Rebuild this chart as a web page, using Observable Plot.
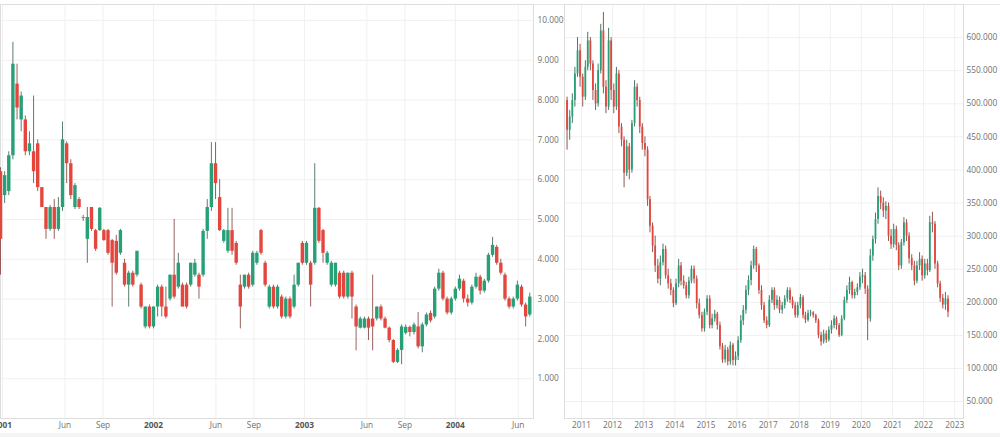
<!DOCTYPE html>
<html>
<head>
<meta charset="utf-8">
<script src="https://cdn.jsdelivr.net/npm/d3@7"></script>
<script src="https://cdn.jsdelivr.net/npm/@observablehq/plot@0.6"></script>
<style>
  html, body { margin: 0; padding: 0; background: #fff; }
  #wrap { position: relative; width: 1000px; height: 437px; overflow: hidden; background: #fff; }
  #left, #right { position: absolute; top: 0; }
  #left { left: 0; }
  #right { left: 563px; }
  #topline { position: absolute; left: 0; top: 4px; width: 1000px; height: 0; border-top: 1px solid #e6e6e6; }
  #bottomband { position: absolute; left: 0; top: 433px; width: 1000px; height: 4px; background: #f4f4f4; }
</style>
</head>
<body>
<div id="wrap">
  <div id="topline"></div>
  <div id="left"></div>
  <div id="right"></div>
  <div id="bottomband"></div>
</div>
<script>
// ---------- DATA ----------
// Left chart: candles every 10 days from 2000-12-27, [open, high, low, close]
const leftStart = "2000-12-27";
const leftStepDays = 10;
const leftOHLC = [
[6200,6300,3600,4500],[5600,6200,5400,6100],[5700,6700,5600,6600],[6600,9450,6500,8900],
[8400,8900,7500,7800],[7500,8200,7200,8100],[7500,7600,6600,6700],[6700,7200,6600,6900],
[6700,8100,5900,6200],[6900,7000,5700,5800],[5800,5800,5300,5300],[5300,5300,4500,4750],
[4750,5350,4700,5300],[5300,5500,4500,4750],[4750,5550,4700,5300],[5300,7450,5200,7000],
[6900,6950,5900,6400],[6400,6500,5500,5600],[5300,5900,5250,5850],[5500,5550,5250,5300],
[5050,5100,4950,5030],[4500,5300,3900,5050],[5300,5300,4700,4750],[4720,4750,4200,4250],
[4720,5300,4700,5280],[4720,4750,4450,4470],[4720,4750,4100,4150],[4470,4500,2800,3900],
[4450,4600,3600,3650],[4150,4750,4100,4720],[3900,4000,3300,3350],[3350,3700,2800,3650],
[3650,3700,3300,3350],[3600,4200,3550,4200],[3350,3400,2750,2800],[2300,2800,2250,2800],
[2800,2850,2250,2300],[2300,2800,2250,2800],[2800,3350,2550,3300],[3300,3350,2550,2800],
[2800,3300,2500,2550],[3000,3600,2950,3600],[3600,5000,3000,3050],[3300,4150,3250,3900],
[3350,3400,2800,2800],[3350,3400,2750,2800],[3350,3900,3300,3900],[3600,4000,3550,3900],
[3600,3650,3000,3300],[3600,4750,3550,4700],[4700,5500,4500,5300],[5300,6930,5200,6400],
[6400,6930,5500,5900],[5550,6000,4700,4720],[4450,4750,4400,4720],[4200,5280,4150,4720],
[4720,5280,4100,4200],[4400,4450,3850,3900],[3350,3600,2250,2800],[3300,3600,3250,3600],
[3600,3650,3250,3300],[3350,4200,3300,4150],[3900,4200,3850,4150],[4720,4750,4100,4150],
[3900,3950,3300,3350],[2800,3350,2750,3300],[3300,3350,2750,2800],[2800,3350,2750,3300],
[3050,3100,2500,2550],[2550,3050,2500,3000],[3000,3050,2500,2550],[2800,3600,2750,3350],
[3350,3900,3300,3900],[4400,4450,3850,3900],[3900,4450,3850,4400],[3900,3950,2800,3350],
[3900,6400,3850,5280],[5280,5300,4400,4450],[4720,4750,3900,4150],[3900,4200,3850,4150],
[3350,3950,3300,3900],[3350,3900,3300,3900],[3650,3700,3000,3050],[3650,3700,3000,3050],
[3050,3650,3000,3650],[3650,3700,2500,3050],[2800,2850,1700,2300],[2270,2550,2250,2500],
[2270,2550,2250,2500],[2500,2550,1960,2270],[2500,3600,1700,2300],[2500,2800,2450,2800],
[2800,2850,2450,2500],[2500,2550,2250,2270],[2270,2300,1900,1960],[1960,1980,1380,1410],
[1410,1750,1380,1710],[1710,2350,1350,2300],[2140,2350,2100,2290],[2290,2320,2050,2160],
[2160,2400,2100,2350],[2300,2660,1750,1800],[1800,2400,1650,2350],[2350,2650,2300,2600],
[2640,2700,2400,2450],[2550,3300,2500,3250],[3250,3750,3200,3650],[3650,3700,2950,3000],
[3000,3050,2600,2650],[2650,3050,2600,3000],[3000,3300,2950,3250],[3250,3600,3200,3500],
[3450,3500,2900,3000],[3000,3100,2800,2900],[2900,3350,2850,3300],[3300,3650,3250,3550],
[3550,3600,3100,3200],[3200,3500,3150,3450],[3450,4150,3400,4100],[4100,4550,4050,4350],
[4300,4350,3850,3900],[3900,4000,3600,3650],[3600,3650,2950,3000],[3000,3050,2750,2800],
[2800,3050,2750,3000],[3000,3450,2950,3350],[3300,3350,2800,2850],[2850,2900,2300,2550],
[2600,3150,2550,3050]
];

// Right chart: monthly candles from 2010-07, values in thousands, [open, high, low, close]
const rightStart = "2010-07-15";
const rightUnit = 1000;
const rightOHLC = [
[505,510,430,460],[460,490,445,480],[480,515,470,505],[505,555,495,545],[545,600,540,580],
[580,590,525,540],[540,545,495,510],[510,565,505,555],[555,608,550,595],[595,600,550,560],
[560,565,505,520],[520,530,490,500],[500,560,495,550],[550,620,545,610],[610,638,515,525],
[525,535,485,495],[495,614,490,595],[595,600,505,520],[520,530,485,495],[495,555,490,545],
[545,550,455,465],[465,470,435,445],[445,450,373,395],[395,445,390,435],[435,440,385,400],
[400,475,395,470],[470,535,465,525],[525,530,495,505],[505,510,455,465],[465,470,430,440],
[440,450,420,430],[430,435,345,355],[355,360,305,315],[315,320,275,285],[285,300,245,255],
[255,265,228,235],[235,270,225,260],[260,288,255,280],[280,285,235,240],[240,250,220,228],
[228,235,210,218],[218,222,192,198],[198,235,195,228],[228,265,222,255],[255,260,225,232],
[232,240,220,225],[225,230,205,210],[210,238,205,232],[232,255,228,250],[250,255,228,235],
[235,240,190,198],[198,205,175,180],[180,185,155,160],[160,190,155,185],[185,210,180,205],
[205,210,160,165],[165,182,160,175],[175,188,170,182],[182,185,158,165],[165,170,128,133],
[133,138,108,113],[113,135,108,128],[128,132,104,110],[110,140,105,135],[135,138,104,112],
[112,125,104,118],[118,148,112,142],[142,180,138,172],[172,195,165,188],[188,225,182,218],
[218,240,210,233],[233,262,225,255],[255,285,250,280],[280,283,245,255],[255,258,212,218],
[218,225,188,195],[195,200,168,172],[172,178,160,165],[165,210,162,203],[203,222,198,218],
[218,222,188,195],[195,210,190,203],[203,208,183,188],[188,200,182,195],[195,210,190,205],
[205,222,200,218],[218,222,198,203],[203,208,190,195],[195,200,176,180],[180,200,176,195],
[195,212,190,207],[207,210,175,180],[180,185,168,173],[173,188,170,183],[183,188,178,184],
[184,186,176,180],[180,182,168,172],[172,175,145,150],[150,155,134,140],[140,158,137,152],
[152,157,138,143],[143,163,140,158],[158,172,152,165],[165,180,160,175],[175,178,158,165],
[165,168,147,150],[150,180,148,175],[175,208,172,203],[203,225,198,218],[218,238,212,230],
[230,232,205,210],[210,220,205,215],[215,228,210,222],[222,245,218,238],[238,250,228,240],
[240,245,212,220],[220,225,142,175],[175,280,170,270],[270,300,262,295],[295,335,288,325],
[325,373,318,360],[360,368,340,350],[350,358,328,338],[338,352,325,345],[345,350,292,300],
[300,310,280,287],[287,318,282,310],[310,315,278,286],[286,290,248,255],[255,295,250,290],
[290,328,285,320],[320,325,292,300],[300,305,258,266],[266,272,248,255],[255,262,225,232],
[232,262,228,255],[255,275,248,265],[265,270,232,240],[240,265,235,258],[258,265,240,248],
[248,330,245,320],[320,336,305,318],[318,322,250,258],[258,262,222,228],[228,232,200,206],
[206,212,190,196],[196,215,188,205],[205,210,177,185]
];

// Tick values and labels
const leftYTicks = [1000,2000,3000,4000,5000,6000,7000,8000,9000,10000];
const leftYearTicks = ["2001-01-01","2002-01-01","2003-01-01","2004-01-01"];
const leftYearLabels = ["2001","2002","2003","2004"];
const leftMonthTicks = ["2001-06-01","2001-09-01","2002-06-01","2002-09-01","2003-06-01","2003-09-01","2004-06-01"];
const leftMonthLabels = ["Jun","Sep","Jun","Sep","Jun","Sep","Jun"];
const rightYTicks = [50000,100000,150000,200000,250000,300000,350000,400000,450000,500000,550000,600000];
const rightYearTicks = ["2011","2012","2013","2014","2015","2016","2017","2018","2019","2020","2021","2022","2023"];

// ---------- BUILD ----------
const GREEN = "#27a078", RED = "#e4463e";
const GREEN_WICK = "#2f5e4c", RED_WICK = "#7e3a34";
const GRID = "#f0f0f0", FRAME = "#dedede", TEXT = "#707070";
const numFmt = d3.formatLocale({decimal: ",", thousands: ".", grouping: [3], currency: ["", ""]}).format(",.0f");
const parse = s => new Date(s + (s.length === 4 ? "-01-01" : "") + "T00:00:00Z");

const leftData = leftOHLC.map(([open, high, low, close], i) => ({
  date: d3.utcDay.offset(parse(leftStart), i * leftStepDays), open, high, low, close
}));
const rightData = rightOHLC.map(([open, high, low, close], i) => ({
  date: d3.utcMonth.offset(parse(rightStart), i),
  open: open * rightUnit, high: high * rightUnit, low: low * rightUnit, close: close * rightUnit
}));
const col = d => d.close >= d.open ? GREEN : RED;
const wick = d => d.close >= d.open ? GREEN_WICK : RED_WICK;

function labelMap(ticks, labels) {
  const m = new Map();
  ticks.forEach((t, i) => m.set(+parse(t), labels[i]));
  return d => m.get(+d);
}

const style = {fontFamily: "'Open Sans', sans-serif", fontSize: "8.3px", background: "transparent", overflow: "visible"};

const leftPlot = Plot.plot({
  width: 563, height: 437,
  marginTop: 4, marginBottom: 19, marginLeft: 0, marginRight: 30,
  style,
  x: {type: "utc", domain: [parse("2000-12-27"), parse("2004-07-08")]},
  y: {domain: [0, 10400]},
  marks: [
    Plot.gridX({ticks: [...leftYearTicks, ...leftMonthTicks].map(parse), stroke: GRID, strokeOpacity: 1}),
    Plot.gridY({ticks: leftYTicks, stroke: GRID, strokeOpacity: 1}),
    Plot.frame({stroke: FRAME}),
    Plot.ruleX(leftData, {x: "date", y1: "low", y2: "high", stroke: wick, strokeWidth: 1, strokeOpacity: 0.8}),
    Plot.ruleX(leftData, {x: "date", y1: "open", y2: "close", stroke: col, strokeWidth: 3.4}),
    Plot.axisX({ticks: leftMonthTicks.map(parse), tickFormat: labelMap(leftMonthTicks, leftMonthLabels),
      tickSize: 0, tickPadding: 4, color: TEXT, label: null}),
    Plot.axisX({ticks: leftYearTicks.map(parse), tickFormat: labelMap(leftYearTicks, leftYearLabels),
      tickSize: 0, tickPadding: 4, color: "#555", fontWeight: "bold", label: null}),
    Plot.axisY({anchor: "right", ticks: leftYTicks, tickFormat: numFmt, tickSize: 0, tickPadding: 4,
      color: TEXT, label: null})
  ]
});
document.getElementById("left").appendChild(leftPlot);

const rightPlot = Plot.plot({
  width: 437, height: 437,
  marginTop: 4, marginBottom: 19, marginLeft: 1, marginRight: 37,
  style,
  x: {type: "utc", domain: [parse("2010-06-15"), parse("2023-04-15")]},
  y: {domain: [24500, 650000]},
  marks: [
    Plot.gridX({ticks: rightYearTicks.map(parse), stroke: GRID, strokeOpacity: 1}),
    Plot.gridY({ticks: rightYTicks, stroke: GRID, strokeOpacity: 1}),
    Plot.frame({stroke: FRAME}),
    Plot.ruleX(rightData, {x: "date", y1: "low", y2: "high", stroke: wick, strokeWidth: 1, strokeOpacity: 0.85}),
    Plot.ruleX(rightData, {x: "date", y1: "open", y2: "close", stroke: col, strokeWidth: 1.8}),
    Plot.axisX({ticks: rightYearTicks.map(parse), tickFormat: labelMap(rightYearTicks, rightYearTicks),
      tickSize: 0, tickPadding: 4, color: TEXT, label: null}),
    Plot.axisY({anchor: "right", ticks: rightYTicks, tickFormat: numFmt, tickSize: 0, tickPadding: 3,
      color: TEXT, label: null})
  ]
});
document.getElementById("right").appendChild(rightPlot);
</script>
</body>
</html>
